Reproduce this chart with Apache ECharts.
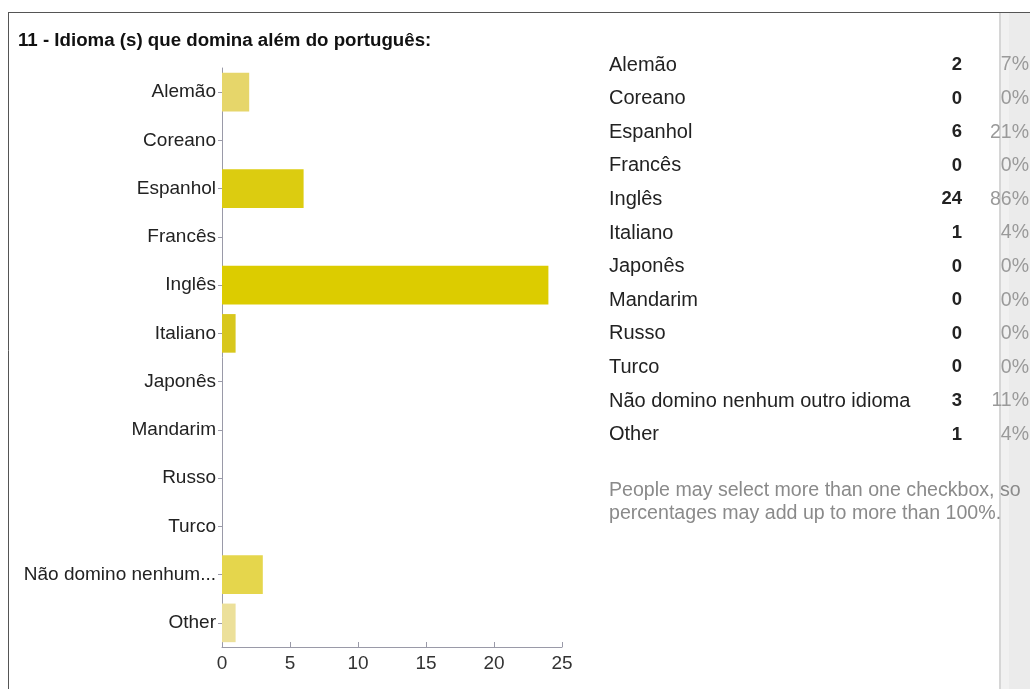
<!DOCTYPE html>
<html>
<head>
<meta charset="utf-8">
<script src="https://cdn.jsdelivr.net/npm/echarts@6/dist/echarts.min.js"></script>
<style>
html,body{margin:0;padding:0;background:#fff;}
#main{width:1030px;height:689px;}
</style>
</head>
<body>
<div id="main"></div>
<script>
const title = '11 - Idioma (s) que domina além do português:';
const categories = ['Alemão','Coreano','Espanhol','Francês','Inglês','Italiano','Japonês','Mandarim','Russo','Turco','Não domino nenhum outro idioma','Other'];
const counts = [2,0,6,0,24,1,0,0,0,0,3,1];
const percents = ['7%','0%','21%','0%','86%','4%','0%','0%','0%','0%','11%','4%'];
const xTicks = [0,5,10,15,20,25];
const note = ['People may select more than one checkbox, so','percentages may add up to more than 100%.'];
const barColors = ['#e6d66a','#dccc10','#dccc10','#dccc10','#dccc00','#d8c71c','#dccc10','#dccc10','#dccc10','#dccc10','#e5d64c','#ece09a'];

const chart = echarts.init(document.getElementById('main'), null, {renderer:'canvas'});

const FONT = '"Liberation Sans", Arial, sans-serif';
const graphics = [
  {type:'rect', shape:{x:999,y:12,width:31,height:677}, style:{fill:'#ebebeb'}, z:-10},
  {type:'rect', shape:{x:999,y:12,width:2,height:677}, style:{fill:'#d6d6d6'}, z:-9},
  {type:'rect', shape:{x:1001,y:12,width:8,height:677}, style:{fill:'#f1f1f1'}, z:-9},
  {type:'line', shape:{x1:8,y1:12.5,x2:1030,y2:12.5}, style:{stroke:'#555',lineWidth:1}},
  {type:'line', shape:{x1:8.5,y1:12,x2:8.5,y2:689}, style:{stroke:'#555',lineWidth:1}},
  {type:'text', x:18, y:41, style:{text:title, font:'bold 18.7px '+FONT, fill:'#111', verticalAlign:'middle'}}
];
const rowTop = 65, rowStep = 33.6;
categories.forEach((c,i)=>{
  const y = rowTop + i*rowStep;
  graphics.push({type:'text', x:609, y:y, style:{text:c, font:'20px '+FONT, fill:'#222', verticalAlign:'middle'}});
  graphics.push({type:'text', x:962, y:y, style:{text:String(counts[i]), font:'bold 18.5px '+FONT, fill:'#222', align:'right', verticalAlign:'middle'}});
  graphics.push({type:'text', x:1029, y:y, style:{text:percents[i], font:'19.5px '+FONT, fill:'#9a9a9a', align:'right', verticalAlign:'middle'}});
});
note.forEach((t,i)=>{
  graphics.push({type:'text', x:609, y:491 + i*23, style:{text:t, font:'19.6px '+FONT, fill:'#8a8a8a', verticalAlign:'middle'}});
});

chart.setOption({
  animation:false,
  backgroundColor:'#fff',
  grid:{left:222, top:68, width:340, height:579, containLabel:false},
  xAxis:{
    type:'value', min:0, max:25, interval:5,
    axisLine:{show:true, lineStyle:{color:'#9a9aa8', width:1}},
    axisTick:{show:true, inside:true, length:5, lineStyle:{color:'#9a9aa8'}},
    splitLine:{show:false},
    axisLabel:{color:'#333', fontSize:19, fontFamily:FONT, margin:7,
      formatter:v=> xTicks.includes(v) ? String(v) : ''}
  },
  yAxis:{
    type:'category', data:categories, inverse:true,
    axisLine:{show:true, lineStyle:{color:'#9a9aa8', width:1}},
    axisTick:{show:true, alignWithLabel:true, length:4, lineStyle:{color:'#9a9aa8'}},
    axisLabel:{color:'#222', fontSize:19, fontFamily:FONT, margin:6,
      formatter:v=> v.length>20 ? v.slice(0,17)+'...' : v}
  },
  series:[{
    type:'bar', barCategoryGap:'20%',
    data:counts.map((v,i)=>({value:v, itemStyle:{color:barColors[i]}})),
    silent:true
  }],
  graphic:graphics
});
</script>
</body>
</html>
